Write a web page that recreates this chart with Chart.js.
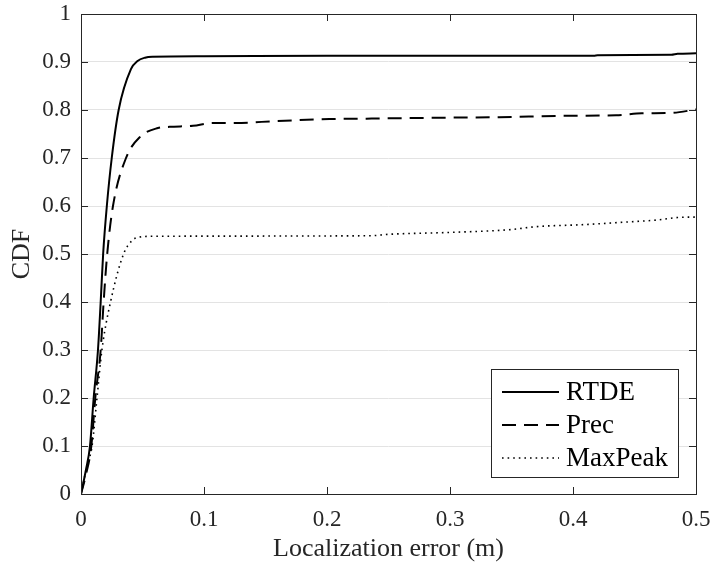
<!DOCTYPE html>
<html>
<head>
<meta charset="utf-8">
<script src="https://cdn.jsdelivr.net/npm/chart.js@4/dist/chart.umd.min.js"></script>
<style>
  body { margin: 0; background: #fff; }
  #wrap { width: 714px; height: 568px; }
</style>
</head>
<body>
<div id="wrap"><canvas id="cdf" width="714" height="568"></canvas></div>
<script>
// CDF of localization error for the three estimators
const rtdeX = [0, 0.004, 0.0073, 0.0103, 0.0138, 0.016, 0.018, 0.021, 0.025, 0.0306, 0.0406, 0.046, 0.052, 0.058, 0.1, 0.2, 0.3, 0.417, 0.42, 0.48, 0.485, 0.5];
const rtdeY = [0, 0.05, 0.1, 0.2, 0.3, 0.4, 0.5, 0.6, 0.7, 0.8, 0.885, 0.902, 0.909, 0.911, 0.912, 0.913, 0.913, 0.913, 0.914, 0.915, 0.917, 0.918];

const precX = [0, 0.004, 0.0084, 0.0116, 0.016, 0.0184, 0.0213, 0.026, 0.0366, 0.048, 0.0625, 0.072, 0.091, 0.107, 0.126, 0.159, 0.202, 0.232, 0.294, 0.34, 0.394, 0.435, 0.456, 0.48, 0.5];
const precY = [0, 0.04, 0.1, 0.2, 0.3, 0.4, 0.5, 0.6, 0.7, 0.744, 0.7625, 0.765, 0.767, 0.773, 0.773, 0.777, 0.781, 0.782, 0.784, 0.785, 0.788, 0.789, 0.793, 0.794, 0.801];

const maxPeakX = [0, 0.005, 0.009, 0.013, 0.017, 0.024, 0.0346, 0.042, 0.047, 0.06, 0.235, 0.25, 0.3, 0.35, 0.37, 0.407, 0.44, 0.469, 0.485, 0.5];
const maxPeakY = [0, 0.06, 0.1, 0.2, 0.3, 0.4, 0.5, 0.529, 0.535, 0.537, 0.538, 0.541, 0.545, 0.551, 0.557, 0.561, 0.566, 0.571, 0.576, 0.577];

const seriesNames = ['RTDE', 'Prec', 'MaxPeak'];
const xTicks = [0, 0.1, 0.2, 0.3, 0.4, 0.5];
const xTickLabels = ['0', '0.1', '0.2', '0.3', '0.4', '0.5'];
const yTicks = [0, 0.1, 0.2, 0.3, 0.4, 0.5, 0.6, 0.7, 0.8, 0.9, 1];
const yTickLabels = ['0', '0.1', '0.2', '0.3', '0.4', '0.5', '0.6', '0.7', '0.8', '0.9', '1'];

const serif = '"Liberation Serif", "Times New Roman", serif';
const axisColor = '#262626';

const toPoints = (xs, ys) => xs.map((x, i) => ({ x, y: ys[i] }));

// inward ticks on all four sides plus the box, matlab style
const boxTicks = {
  id: 'boxTicks',
  afterDatasetsDraw(chart) {
    const { ctx, chartArea: a, scales: { x, y } } = chart;
    const len = 7;
    ctx.save();
    ctx.strokeStyle = axisColor;
    ctx.lineWidth = 1;
    ctx.beginPath();
    xTicks.forEach(v => {
      const px = Math.round(x.getPixelForValue(v)) + 0.5;
      ctx.moveTo(px, a.bottom); ctx.lineTo(px, a.bottom - len);
      ctx.moveTo(px, a.top); ctx.lineTo(px, a.top + len);
    });
    yTicks.forEach(v => {
      const py = Math.round(y.getPixelForValue(v)) + 0.5;
      ctx.moveTo(a.left, py); ctx.lineTo(a.left + len, py);
      ctx.moveTo(a.right, py); ctx.lineTo(a.right - len, py);
    });
    ctx.stroke();
    ctx.strokeRect(Math.round(a.left) + 0.5, Math.round(a.top) + 0.5,
      Math.round(a.right - a.left), Math.round(a.bottom - a.top));
    ctx.restore();
  }
};

// boxed legend in the lower right corner of the plot
const cornerLegend = {
  id: 'cornerLegend',
  afterDraw(chart) {
    const { ctx, chartArea: a } = chart;
    const w = 187, h = 108;
    const left = a.right - 18 - w, top = a.bottom - 17 - h;
    ctx.save();
    ctx.fillStyle = '#fff';
    ctx.fillRect(left, top, w, h);
    ctx.strokeStyle = axisColor;
    ctx.lineWidth = 1;
    ctx.strokeRect(Math.round(left) + 0.5, Math.round(top) + 0.5, w, h);
    ctx.font = '27px ' + serif;
    ctx.textBaseline = 'middle';
    ctx.fillStyle = '#000';
    chart.data.datasets.forEach((ds, i) => {
      const cy = top + 23 + i * 33;
      ctx.beginPath();
      ctx.strokeStyle = '#000';
      ctx.lineWidth = ds.borderWidth;
      ctx.setLineDash(ds.borderDash || []);
      ctx.moveTo(left + 11, cy);
      ctx.lineTo(left + 68, cy);
      ctx.stroke();
      ctx.setLineDash([]);
      ctx.fillText(ds.label, left + 75, cy + 1);
    });
    ctx.restore();
  }
};

new Chart(document.getElementById('cdf'), {
  type: 'line',
  data: {
    datasets: [
      { label: seriesNames[0], data: toPoints(rtdeX, rtdeY), borderColor: '#000', borderWidth: 2 },
      { label: seriesNames[1], data: toPoints(precX, precY), borderColor: '#000', borderWidth: 2, borderDash: [14, 8] },
      { label: seriesNames[2], data: toPoints(maxPeakX, maxPeakY), borderColor: '#000', borderWidth: 1.6, borderDash: [1.6, 4] }
    ]
  },
  options: {
    responsive: false,
    animation: false,
    layout: { padding: { left: 0, right: 18, top: 14, bottom: 0 } },
    elements: {
      point: { radius: 0 },
      line: { cubicInterpolationMode: 'monotone' }
    },
    plugins: { legend: { display: false }, tooltip: { enabled: false } },
    scales: {
      x: {
        type: 'linear',
        min: 0,
        max: 0.5,
        afterBuildTicks: s => { s.ticks = xTicks.map(value => ({ value })); },
        afterFit: s => { s.height = 74; s.paddingLeft = 0; s.paddingRight = 0; },
        grid: { display: false, drawTicks: false },
        border: { display: false },
        ticks: {
          padding: 14,
          color: axisColor,
          font: { family: serif, size: 23, lineHeight: 1 },
          callback: (v, i) => xTickLabels[i]
        },
        title: {
          display: true,
          text: 'Localization error (m)',
          color: axisColor,
          font: { family: serif, size: 26, lineHeight: 1 },
          padding: { top: 0, bottom: 6 }
        }
      },
      y: {
        min: 0,
        max: 1,
        afterBuildTicks: s => { s.ticks = yTicks.map(value => ({ value })); },
        afterFit: s => { s.width = 81; s.paddingTop = 0; s.paddingBottom = 0; },
        grid: { color: '#e3e3e3', lineWidth: 1, drawTicks: false },
        border: { display: false },
        ticks: {
          padding: 10,
          color: axisColor,
          font: { family: serif, size: 23, lineHeight: 1 },
          callback: (v, i) => yTickLabels[i]
        },
        title: {
          display: true,
          text: 'CDF',
          color: axisColor,
          font: { family: serif, size: 26, lineHeight: 1 },
          padding: { top: 9, bottom: 0 }
        }
      }
    }
  },
  plugins: [boxTicks, cornerLegend]
});
</script>
</body>
</html>
